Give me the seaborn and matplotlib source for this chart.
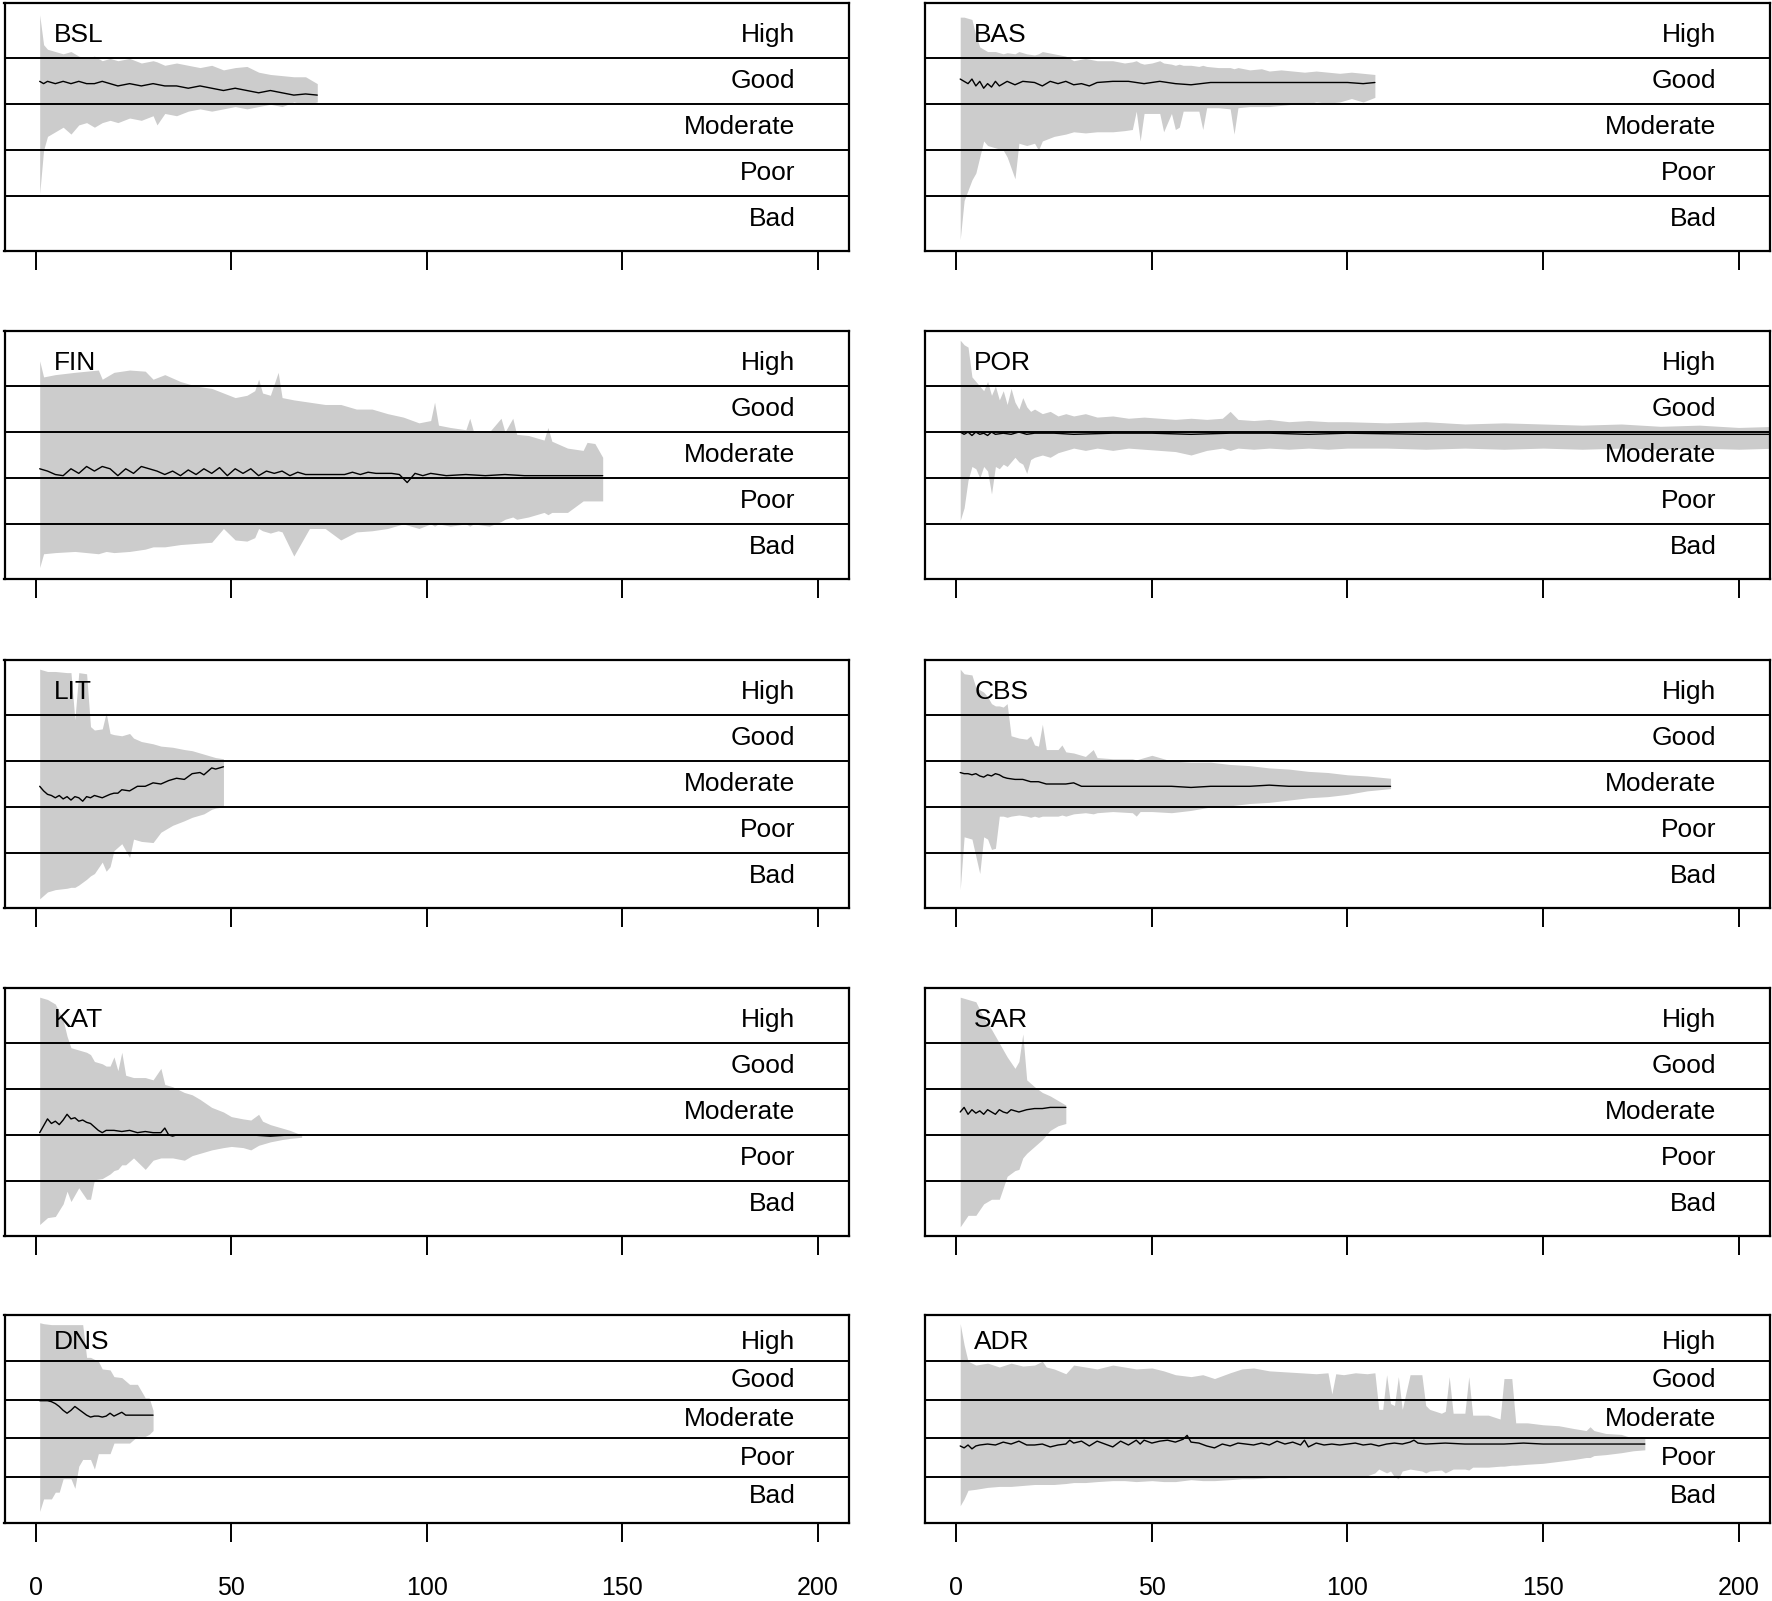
import matplotlib
matplotlib.use("Agg")
import matplotlib.pyplot as plt
import seaborn as sns
import numpy as np

# status classes (band centres) and panel names
classes = ["Bad", "Poor", "Moderate", "Good", "High"]
class_mid = [0.1, 0.3, 0.5, 0.7, 0.9]
class_breaks = [0.2, 0.4, 0.6, 0.8]
x_ticks = [0, 50, 100, 150, 200]

# ---- BSL
bsl_x = [1, 2, 3, 5, 7, 9, 11, 13, 15, 17, 19, 21, 24, 27, 30, 31, 33, 36, 39, 42, 45, 48, 51, 54, 57, 60, 63, 66, 69, 72]
bsl_hi = [0.99, 0.86, 0.84, 0.83, 0.82, 0.83, 0.81, 0.80, 0.81, 0.79, 0.80, 0.79, 0.80, 0.78, 0.79, 0.785, 0.77, 0.78, 0.77, 0.76, 0.77, 0.75, 0.76, 0.765, 0.74, 0.73, 0.725, 0.72, 0.72, 0.69]
bsl_lo = [0.21, 0.40, 0.46, 0.48, 0.50, 0.47, 0.51, 0.52, 0.50, 0.52, 0.53, 0.52, 0.54, 0.53, 0.55, 0.51, 0.56, 0.55, 0.57, 0.58, 0.57, 0.58, 0.59, 0.58, 0.59, 0.60, 0.59, 0.61, 0.60, 0.61]
bsl_mx = [1, 2, 3, 5, 7, 9, 11, 13, 15, 17, 19, 21, 24, 27, 30, 33, 36, 39, 42, 45, 48, 51, 54, 57, 60, 63, 66, 69, 72]
bsl_mn = [0.70, 0.69, 0.70, 0.69, 0.70, 0.69, 0.70, 0.69, 0.69, 0.70, 0.69, 0.68, 0.69, 0.68, 0.69, 0.68, 0.68, 0.67, 0.68, 0.67, 0.66, 0.67, 0.66, 0.65, 0.66, 0.65, 0.64, 0.645, 0.64]

# ---- BAS
bas_x = [1, 2, 3, 4, 5, 6, 7, 8, 10, 12, 13, 15, 16, 18, 20, 21, 22, 25, 28, 30, 33, 36, 40, 43, 45, 46, 47, 48, 50, 52,
         53, 55, 56, 57, 58, 60, 62, 63, 64, 67, 70, 71, 72, 75, 78, 80, 83, 86, 89, 92, 95, 98, 101, 104, 107]
bas_hi = [0.98, 0.98, 0.975, 0.97, 0.90, 0.85, 0.84, 0.83, 0.83, 0.82, 0.825, 0.82, 0.83, 0.82, 0.815, 0.82, 0.83, 0.82, 0.81, 0.79,
          0.80, 0.79, 0.79, 0.78, 0.785, 0.79, 0.78, 0.775, 0.78, 0.79, 0.78, 0.775, 0.77, 0.775, 0.77, 0.77, 0.765, 0.77, 0.765, 0.76,
          0.76, 0.755, 0.76, 0.75, 0.755, 0.745, 0.75, 0.745, 0.74, 0.745, 0.74, 0.735, 0.74, 0.735, 0.73]
bas_lo = [0.01, 0.18, 0.225, 0.27, 0.30, 0.37, 0.44, 0.42, 0.41, 0.40, 0.37, 0.275, 0.43, 0.42, 0.43, 0.40, 0.44, 0.46, 0.47, 0.48,
          0.475, 0.48, 0.48, 0.485, 0.49, 0.57, 0.44, 0.56, 0.56, 0.56, 0.48, 0.56, 0.49, 0.50, 0.57, 0.57, 0.57, 0.49, 0.585, 0.585,
          0.58, 0.47, 0.585, 0.59, 0.59, 0.59, 0.595, 0.60, 0.60, 0.61, 0.605, 0.61, 0.625, 0.61, 0.63]
bas_mx = [1, 2, 3, 4, 5, 6, 7, 8, 9, 10, 11, 12, 13, 15, 17, 20, 22, 24, 26, 28, 30, 32, 34, 36,
          40, 44, 48, 52, 56, 60, 65, 70, 75, 80, 85, 90, 95, 100, 104, 107]
bas_mn = [0.71, 0.70, 0.69, 0.71, 0.68, 0.70, 0.67, 0.69, 0.675, 0.70, 0.68, 0.69, 0.70, 0.685, 0.70, 0.695, 0.68, 0.70, 0.69, 0.70,
          0.685, 0.69, 0.68, 0.695, 0.70, 0.70, 0.69, 0.70, 0.69, 0.685, 0.695, 0.695, 0.695, 0.695, 0.695, 0.695, 0.695, 0.695, 0.69, 0.695]

# ---- FIN
fin_x = [1, 2, 5, 10, 16, 17, 18, 20, 24, 28, 30, 33, 37, 41, 45, 48, 51, 54, 56, 57, 58, 60, 62, 63, 66, 70, 74, 78, 82, 86,
         90, 94, 98, 101, 102, 103, 106, 110, 111, 112, 116, 119, 120, 122, 123, 126, 130, 131, 132, 136, 140, 141, 143, 145]
fin_hi = [0.91, 0.84, 0.85, 0.86, 0.87, 0.83, 0.84, 0.86, 0.87, 0.865, 0.83, 0.85, 0.82, 0.80, 0.79, 0.77, 0.75, 0.76, 0.78, 0.83,
          0.77, 0.76, 0.86, 0.75, 0.74, 0.73, 0.72, 0.72, 0.70, 0.70, 0.68, 0.665, 0.64, 0.65, 0.73, 0.63, 0.62, 0.61, 0.66, 0.60,
          0.60, 0.66, 0.60, 0.66, 0.59, 0.585, 0.565, 0.62, 0.56, 0.53, 0.52, 0.555, 0.55, 0.49]
fin_lo = [0.01, 0.07, 0.075, 0.08, 0.07, 0.075, 0.08, 0.075, 0.08, 0.09, 0.10, 0.10, 0.11, 0.115, 0.12, 0.18, 0.13, 0.125, 0.14, 0.18,
          0.17, 0.16, 0.17, 0.165, 0.06, 0.18, 0.18, 0.13, 0.165, 0.17, 0.18, 0.20, 0.18, 0.20, 0.19, 0.20, 0.19, 0.20, 0.19, 0.20,
          0.19, 0.21, 0.22, 0.23, 0.22, 0.23, 0.25, 0.24, 0.25, 0.25, 0.30, 0.30, 0.30, 0.30]
fin_mx = [1, 3, 5, 7, 9, 11, 13, 15, 17, 19, 21, 23, 25, 27, 29, 31, 33, 35, 37, 39, 41, 43, 45, 47, 49, 51, 53, 55, 57, 59,
          61, 63, 65, 67, 69, 71, 75, 79, 81, 83, 85, 87, 89, 91, 93, 95, 97, 99, 101, 105, 110, 115, 120, 125, 130, 135, 140, 145]
fin_mn = [0.44, 0.43, 0.415, 0.41, 0.44, 0.42, 0.45, 0.43, 0.45, 0.44, 0.41, 0.44, 0.42, 0.45, 0.44, 0.43, 0.415, 0.43, 0.41, 0.435,
          0.415, 0.44, 0.42, 0.445, 0.41, 0.44, 0.42, 0.44, 0.41, 0.43, 0.42, 0.43, 0.41, 0.425, 0.415, 0.415, 0.415, 0.415, 0.425, 0.415,
          0.425, 0.42, 0.42, 0.42, 0.415, 0.38, 0.42, 0.41, 0.42, 0.41, 0.415, 0.41, 0.415, 0.41, 0.41, 0.41, 0.41, 0.41]

# ---- POR
por_x = [1, 2, 3, 4, 5, 6, 7, 8, 9, 10, 11, 12, 13, 14, 15, 16, 17, 18, 19, 20, 22, 24, 26, 28, 30,
         33, 36, 40, 44, 48, 52, 56, 60, 64, 68, 70, 72, 76, 80, 85, 90, 95, 100,
         110, 120, 130, 140, 150, 160, 170, 180, 190, 200, 210]
por_hi = [1.0, 0.98, 0.97, 0.84, 0.82, 0.80, 0.78, 0.82, 0.76, 0.80, 0.74, 0.78, 0.72, 0.79, 0.73, 0.70, 0.75, 0.71, 0.69, 0.70,
          0.68, 0.69, 0.67, 0.68, 0.67, 0.68, 0.665, 0.67, 0.66, 0.665, 0.66, 0.655, 0.66, 0.655, 0.66,
          0.69, 0.655, 0.65, 0.655, 0.645, 0.65, 0.645, 0.645, 0.64, 0.645, 0.635, 0.64, 0.635, 0.63, 0.635, 0.625, 0.63, 0.62, 0.625]
por_lo = [0.215, 0.27, 0.39, 0.45, 0.44, 0.40, 0.45, 0.43, 0.33, 0.45, 0.44, 0.46, 0.45, 0.47, 0.49, 0.47, 0.46, 0.42, 0.48, 0.49,
          0.50, 0.49, 0.51, 0.52, 0.53, 0.52, 0.53, 0.52, 0.53, 0.525, 0.52, 0.515, 0.50, 0.52, 0.53,
          0.52, 0.53, 0.525, 0.53, 0.525, 0.53, 0.525, 0.53, 0.53, 0.525, 0.53, 0.525, 0.53, 0.525, 0.53, 0.525, 0.53, 0.525, 0.53]
por_mx = [1, 2, 3, 4, 5, 6, 7, 8, 9, 10, 12, 14, 16, 18, 20, 25, 30, 40, 50, 60, 70, 80, 90, 100, 120, 140, 160, 180, 200, 210]
por_mn = [0.60, 0.59, 0.60, 0.585, 0.60, 0.59, 0.595, 0.585, 0.60, 0.59, 0.595, 0.59, 0.60, 0.59, 0.595,
          0.595, 0.59, 0.595, 0.595, 0.59, 0.595, 0.595, 0.59, 0.595, 0.59, 0.59, 0.59, 0.59, 0.59, 0.59]

# ---- LIT
lit_x = [1, 3, 5, 8, 9, 10, 11, 13, 14, 15, 17, 18, 19, 20, 22, 24, 25, 27, 30, 32, 35, 38, 40, 43, 45, 46, 48]
lit_hi = [1.0, 0.99, 0.99, 0.985, 0.985, 0.78, 0.985, 0.98, 0.75, 0.735, 0.74, 0.81, 0.72, 0.715, 0.71, 0.72, 0.70, 0.685, 0.675,
          0.665, 0.66, 0.65, 0.645, 0.63, 0.62, 0.615, 0.61]
lit_lo = [0.0, 0.03, 0.04, 0.046, 0.05, 0.05, 0.06, 0.085, 0.10, 0.11, 0.16, 0.12, 0.14, 0.21, 0.24, 0.18, 0.26, 0.25, 0.245,
          0.29, 0.32, 0.34, 0.355, 0.37, 0.39, 0.395, 0.40]
lit_mx = [1, 2, 3, 4, 5, 6, 7, 8, 9, 10, 11, 12, 13, 14, 15, 17, 19, 20, 21, 22, 24, 26, 28, 30,
          32, 34, 36, 38, 40, 42, 43, 44, 45, 46, 47, 48]
lit_mn = [0.49, 0.47, 0.455, 0.45, 0.44, 0.45, 0.435, 0.445, 0.43, 0.445, 0.44, 0.425, 0.445, 0.44, 0.45,
          0.44, 0.455, 0.46, 0.46, 0.475, 0.47, 0.49, 0.49, 0.505,
          0.50, 0.515, 0.525, 0.52, 0.545, 0.55, 0.54, 0.555, 0.57, 0.565, 0.57, 0.575]

# ---- CBS
cbs_x = [1, 2, 4, 5, 6, 7, 8, 9, 10, 11, 12, 13, 14, 16, 18, 19, 20, 21, 22, 23, 26, 27, 28, 30, 33, 35, 36, 40, 45, 46,
         47, 50, 55, 60, 65, 70, 75, 80, 85, 90, 95, 100, 105, 111]
cbs_hi = [1.0, 0.98, 0.975, 0.92, 0.91, 0.90, 0.88, 0.85, 0.84, 0.84, 0.835, 0.85, 0.71, 0.70, 0.695, 0.71, 0.67, 0.665, 0.76, 0.65,
          0.65, 0.67, 0.64, 0.635, 0.62, 0.65, 0.615, 0.61, 0.61, 0.605, 0.61, 0.625, 0.60, 0.595, 0.595, 0.585, 0.58, 0.57, 0.565, 0.555,
          0.55, 0.54, 0.535, 0.525]
cbs_lo = [0.04, 0.27, 0.26, 0.185, 0.11, 0.27, 0.26, 0.215, 0.22, 0.36, 0.36, 0.355, 0.36, 0.365, 0.36, 0.355, 0.36, 0.355, 0.36, 0.36,
          0.36, 0.365, 0.36, 0.37, 0.375, 0.37, 0.375, 0.38, 0.375, 0.36, 0.38, 0.38, 0.375, 0.385, 0.40, 0.405, 0.415, 0.42, 0.43, 0.44,
          0.445, 0.455, 0.47, 0.48]
cbs_mx = [1, 2, 3, 4, 5, 6, 7, 8, 9, 10, 11, 12, 13, 15, 17, 19, 21, 23, 25, 28, 30, 32, 35,
          40, 45, 50, 55, 60, 65, 70, 75, 80, 85, 90, 95, 100, 105, 111]
cbs_mn = [0.55, 0.545, 0.545, 0.54, 0.545, 0.535, 0.53, 0.54, 0.535, 0.545, 0.54, 0.53, 0.525,
          0.52, 0.52, 0.51, 0.51, 0.50, 0.50, 0.50, 0.505, 0.49, 0.49,
          0.49, 0.49, 0.49, 0.49, 0.485, 0.49, 0.49, 0.49, 0.495, 0.49, 0.49, 0.49, 0.49, 0.49, 0.49]

# ---- KAT
kat_x = [1, 3, 5, 7, 8, 9, 11, 13, 14, 15, 17, 18, 19, 20, 21, 22, 23, 25, 28, 30, 32, 33, 35, 38, 40, 42, 45, 48, 50, 53,
         55, 57, 58, 60, 63, 65, 68]
kat_hi = [1.0, 0.99, 0.97, 0.90, 0.83, 0.78, 0.77, 0.76, 0.75, 0.72, 0.71, 0.70, 0.70, 0.74, 0.68, 0.76, 0.66, 0.65, 0.65, 0.64,
          0.69, 0.62, 0.61, 0.585, 0.575, 0.555, 0.52, 0.50, 0.48, 0.47, 0.465, 0.49, 0.46, 0.445, 0.43, 0.42, 0.40]
kat_lo = [0.01, 0.04, 0.045, 0.10, 0.155, 0.11, 0.17, 0.12, 0.12, 0.205, 0.21, 0.22, 0.23, 0.245, 0.25, 0.27, 0.27, 0.30, 0.25, 0.29,
          0.30, 0.30, 0.30, 0.29, 0.31, 0.32, 0.335, 0.345, 0.35, 0.345, 0.335, 0.355, 0.36, 0.37, 0.38, 0.385, 0.39]
kat_mx = [1, 2, 3, 4, 5, 6, 7, 8, 9, 10, 11, 12, 13, 14, 15, 16, 17, 18,
          20, 22, 24, 26, 28, 30, 32, 33, 34, 35, 36, 38, 40, 45, 50, 55, 60, 65, 68]
kat_mn = [0.41, 0.44, 0.47, 0.45, 0.46, 0.445, 0.465, 0.49, 0.47, 0.475, 0.46, 0.465, 0.455, 0.45, 0.435, 0.42, 0.41, 0.42,
          0.42, 0.415, 0.42, 0.41, 0.415, 0.41, 0.41, 0.43, 0.40, 0.395, 0.40, 0.40, 0.40, 0.40, 0.40, 0.40, 0.395, 0.40, 0.40]

# ---- SAR
sar_x = [1, 3, 5, 7, 9, 11, 13, 15, 16, 17, 18, 20, 22, 24, 26, 28]
sar_hi = [1.0, 0.99, 0.98, 0.91, 0.86, 0.80, 0.74, 0.69, 0.72, 0.84, 0.64, 0.61, 0.585, 0.57, 0.55, 0.53]
sar_lo = [0.0, 0.05, 0.05, 0.10, 0.12, 0.12, 0.22, 0.245, 0.25, 0.30, 0.32, 0.35, 0.38, 0.42, 0.44, 0.45]
sar_mx = [1, 2, 3, 4, 5, 6, 7, 8, 9, 10, 11, 12, 13, 14, 16, 18, 20, 22, 24, 26, 28]
sar_mn = [0.50, 0.52, 0.49, 0.51, 0.495, 0.505, 0.49, 0.51, 0.50, 0.49, 0.51, 0.50, 0.495, 0.51,
          0.50, 0.51, 0.515, 0.515, 0.52, 0.52, 0.52]

# ---- DNS
dns_x = [1, 2, 4, 5, 6, 7, 9, 10, 11, 12, 13, 14, 15, 16, 17, 19, 20, 22, 24, 26, 28, 29, 30]
dns_hi = [1.0, 0.995, 0.99, 0.99, 0.99, 0.99, 0.99, 0.99, 0.99, 0.99, 0.82, 0.82, 0.81, 0.80, 0.76, 0.755, 0.72, 0.715, 0.68, 0.68,
          0.61, 0.61, 0.545]
dns_lo = [0.02, 0.085, 0.085, 0.12, 0.12, 0.19, 0.19, 0.14, 0.255, 0.29, 0.29, 0.29, 0.24, 0.32, 0.32, 0.32, 0.375, 0.375, 0.375, 0.41,
          0.41, 0.42, 0.44]
dns_mx = [1, 3, 4, 5, 6, 7, 8, 9, 10, 11, 12, 13, 14, 15, 16, 17, 18, 19, 20, 21, 22, 23, 24, 30]
dns_mn = [0.595, 0.595, 0.59, 0.58, 0.565, 0.545, 0.53, 0.545, 0.565, 0.55, 0.535, 0.52, 0.51, 0.515, 0.515, 0.51, 0.515, 0.53,
          0.515, 0.525, 0.535, 0.52, 0.52, 0.52]

# ---- ADR
adr_x = [1, 2, 3, 5, 8, 11, 14, 17, 20, 22, 23, 25, 28, 30, 33, 36, 40, 43, 46, 50, 53, 56, 60, 63, 66, 70, 73, 76, 80, 84,
         88, 92, 95, 96, 97, 99, 102, 105, 107, 108, 109, 110, 111, 112, 113, 114, 116, 119, 120, 121,
         124, 125, 126, 127, 130, 131, 132, 136, 139, 140, 142, 143, 146, 150, 154, 158, 161, 162, 163, 166, 170, 173, 176]
adr_hi = [0.995, 0.885, 0.80, 0.78, 0.79, 0.77, 0.79, 0.775, 0.78, 0.80, 0.77, 0.76, 0.735, 0.78, 0.77, 0.76, 0.78, 0.77, 0.76, 0.765,
          0.75, 0.73, 0.72, 0.73, 0.71, 0.74, 0.76, 0.765, 0.75, 0.745, 0.74, 0.735, 0.74, 0.63, 0.735, 0.73, 0.74, 0.735, 0.74, 0.55,
          0.55, 0.73, 0.58, 0.57, 0.72, 0.55, 0.73, 0.73, 0.57, 0.55, 0.53, 0.54, 0.72, 0.53, 0.53, 0.72, 0.52, 0.52, 0.50, 0.71,
          0.71, 0.48, 0.48, 0.47, 0.465, 0.45, 0.44, 0.46, 0.44, 0.425, 0.42, 0.40, 0.40]
adr_lo = [0.05, 0.085, 0.13, 0.135, 0.145, 0.15, 0.15, 0.155, 0.16, 0.16, 0.16, 0.16, 0.165, 0.17, 0.17, 0.175, 0.18, 0.18, 0.175, 0.18,
          0.175, 0.175, 0.185, 0.18, 0.18, 0.185, 0.19, 0.19, 0.195, 0.195, 0.20, 0.20, 0.20, 0.20, 0.20, 0.20, 0.20, 0.205, 0.22, 0.24,
          0.23, 0.22, 0.23, 0.20, 0.19, 0.23, 0.24, 0.23, 0.22, 0.23, 0.235, 0.22, 0.23, 0.24, 0.24, 0.235, 0.25, 0.25, 0.255, 0.255,
          0.26, 0.26, 0.265, 0.27, 0.28, 0.29, 0.30, 0.30, 0.31, 0.315, 0.325, 0.335, 0.34]
adr_mx = [1, 2, 3, 4, 5, 6, 8, 10, 12, 14, 16, 18, 20, 22, 24, 26, 28, 29, 30, 32, 34, 36, 38, 40, 42, 44, 46,
          47, 48, 50, 52, 54, 56, 58, 59, 60, 62, 64, 66, 68, 70, 72, 74, 76, 78, 80, 82, 84, 86, 88, 89, 90, 92, 94, 96, 98, 100,
          102, 104, 106, 108, 110, 112, 114, 116, 117, 118, 120, 125, 130, 135, 140, 145, 150, 155, 160, 165, 170, 176]
adr_mn = [0.36, 0.35, 0.365, 0.345, 0.36, 0.365,
          0.37, 0.365, 0.38, 0.37, 0.385, 0.365, 0.365, 0.37, 0.355, 0.365, 0.37,
          0.39, 0.375, 0.385, 0.36, 0.385, 0.37, 0.355, 0.385, 0.365, 0.39,
          0.37, 0.39, 0.375, 0.385, 0.39, 0.38, 0.395, 0.415, 0.38, 0.375,
          0.36, 0.35, 0.37, 0.36, 0.375, 0.37, 0.365, 0.375, 0.365, 0.385,
          0.37, 0.38, 0.365, 0.39, 0.355, 0.375, 0.365, 0.37, 0.365, 0.37,
          0.375, 0.365, 0.37, 0.36, 0.37, 0.375, 0.37, 0.38, 0.39, 0.375,
          0.37, 0.375, 0.37, 0.37, 0.37, 0.375, 0.37, 0.37, 0.37, 0.37,
          0.37, 0.37]

panels = [
    ("BSL", bsl_x, bsl_lo, bsl_hi, bsl_mx, bsl_mn),
    ("BAS", bas_x, bas_lo, bas_hi, bas_mx, bas_mn),
    ("FIN", fin_x, fin_lo, fin_hi, fin_mx, fin_mn),
    ("POR", por_x, por_lo, por_hi, por_mx, por_mn),
    ("LIT", lit_x, lit_lo, lit_hi, lit_mx, lit_mn),
    ("CBS", cbs_x, cbs_lo, cbs_hi, cbs_mx, cbs_mn),
    ("KAT", kat_x, kat_lo, kat_hi, kat_mx, kat_mn),
    ("SAR", sar_x, sar_lo, sar_hi, sar_mx, sar_mn),
    ("DNS", dns_x, dns_lo, dns_hi, dns_mx, dns_mn),
    ("ADR", adr_x, adr_lo, adr_hi, adr_mx, adr_mn),
]

sns.set_style("white")
plt.rcParams['font.family'] = ['Liberation Sans', 'DejaVu Sans']
plt.rcParams['text.color'] = 'black'
plt.rcParams['xtick.color'] = 'black'
plt.rcParams['xtick.labelcolor'] = 'black'

W, H = 1772, 1601
fig = plt.figure(figsize=(W / 100, H / 100), dpi=100)

# panel frames in pixels (left, right) and (top, bottom)
cols_px = [(4.5, 849), (925, 1770)]
rows_px = [(3.4, 251), (331, 579), (660, 908), (988, 1236), (1315, 1523)]

for i, (name, bx, blo, bhi, mx, mn) in enumerate(panels):
    r, c = divmod(i, 2)
    x0, x1 = cols_px[c]
    t, b = rows_px[r]
    ax = fig.add_axes([x0 / W, 1 - b / H, (x1 - x0) / W, (b - t) / H])

    ax.fill_between(bx, blo, bhi, color="#cccccc", lw=0, zorder=1)
    sns.lineplot(x=mx, y=mn, ax=ax, color="black", lw=1.0, errorbar=None, zorder=3)
    for yb in class_breaks:
        ax.axhline(yb, color="black", lw=1.4, zorder=4)

    for lab, ym in zip(classes, class_mid):
        ax.text(194.3, ym, lab, ha="right", va="center", fontsize=19, color="black", zorder=5)
    ax.text(4.6, 0.9, name, ha="left", va="center", fontsize=19, color="black", zorder=5)

    ax.set_xlim(-8, 208)
    ax.set_ylim(-0.04, 1.04)
    ax.set_xticks(x_ticks)
    ax.set_yticks([])
    ax.set_xlabel("")
    ax.set_ylabel("")
    for s in ax.spines.values():
        s.set_visible(True)
        s.set_color("black")
        s.set_linewidth(1.6)
    ax.tick_params(axis="x", direction="out", length=14, width=1.4, color="black",
                   labelsize=18, pad=24, bottom=True, labelbottom=(r == 4))

fig.savefig("out.png", dpi=100)
